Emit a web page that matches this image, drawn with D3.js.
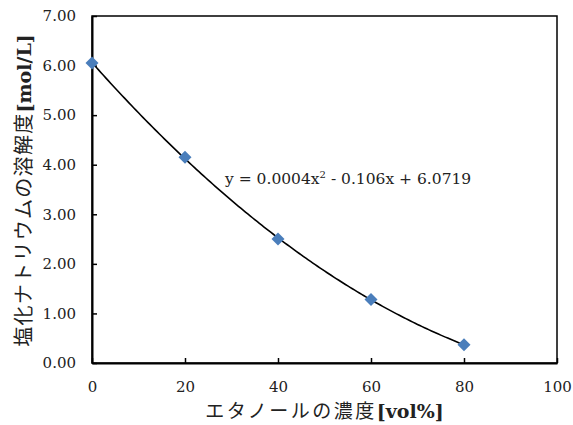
<!DOCTYPE html>
<html><head><meta charset="utf-8">
<script src="https://cdn.jsdelivr.net/npm/d3@7"></script>
<style>
html,body{margin:0;padding:0;background:#fff;}
svg{display:block;}
</style></head>
<body>
<svg id="c" width="573" height="425"></svg>
<script>
// Data
const ethanol = [0, 20, 40, 60, 80];            // vol%
const solubility = [6.05, 4.15, 2.50, 1.28, 0.37]; // mol/L
const xTicks = [0, 20, 40, 60, 80, 100];
const yTicks = [0, 1, 2, 3, 4, 5, 6, 7];
const equationText = ["y = 0.0004x", "2", " - 0.106x + 6.0719"];
const xTitle = ["エタノールの濃度", "[vol%]"];
const yTitle = ["塩化ナトリウムの溶解度", "[mol/L]"];

const W = 573, H = 425;
const m = {left: 92, top: 16, right: 16, bottom: 62};
const svg = d3.select("#c");
const x = d3.scaleLinear().domain([0, 100]).range([m.left, W - m.right]);
const y = d3.scaleLinear().domain([0, 7]).range([H - m.bottom, m.top]);
const serif = "'DejaVu Serif', serif";
const cjk = "'Noto Sans CJK JP', sans-serif";

// frame
svg.append("rect").attr("x", x(0)).attr("y", y(7))
  .attr("width", x(100) - x(0)).attr("height", y(0) - y(7))
  .attr("fill", "none").attr("stroke", "#000").attr("stroke-width", 1.5);

// axes with inward ticks
const xAxis = svg.append("g").attr("transform", `translate(0,${y(0)})`)
  .call(d3.axisBottom(x).tickValues(xTicks).tickSizeInner(-5).tickSizeOuter(0).tickPadding(18).tickFormat(d3.format("d")));
const yAxis = svg.append("g").attr("transform", `translate(${x(0)},0)`)
  .call(d3.axisLeft(y).tickValues(yTicks).tickSizeInner(-5).tickSizeOuter(0).tickPadding(16).tickFormat(d3.format(".2f")));
[xAxis, yAxis].forEach(g => {
  g.select(".domain").attr("stroke", "#000").attr("stroke-width", 2);
  g.selectAll(".tick line").attr("stroke", "#000").attr("stroke-width", 1.5);
  g.selectAll(".tick text").attr("font-family", serif).attr("font-size", 15).attr("fill", "#222");
});
xAxis.selectAll(".tick text").attr("dy", "0.71em");

// polynomial trendline (least squares quadratic fit of data)
function quadFit(xs, ys) {
  const n = xs.length;
  let S = [0,0,0,0,0], T = [0,0,0];
  for (let i = 0; i < n; i++) {
    for (let k = 0; k < 5; k++) S[k] += Math.pow(xs[i], k);
    for (let k = 0; k < 3; k++) T[k] += ys[i] * Math.pow(xs[i], k);
  }
  const M = [[S[0],S[1],S[2],T[0]],[S[1],S[2],S[3],T[1]],[S[2],S[3],S[4],T[2]]];
  for (let i = 0; i < 3; i++) {
    for (let j = i + 1; j < 3; j++) {
      const f = M[j][i] / M[i][i];
      for (let k = i; k < 4; k++) M[j][k] -= f * M[i][k];
    }
  }
  const c = [0,0,0];
  for (let i = 2; i >= 0; i--) {
    let s = M[i][3];
    for (let k = i + 1; k < 3; k++) s -= M[i][k] * c[k];
    c[i] = s / M[i][i];
  }
  return c; // c0 + c1 x + c2 x^2
}
const coef = quadFit(ethanol, solubility);
const xs = d3.range(0, 80.01, 0.5);
svg.append("path")
  .datum(xs.map(v => [v, coef[0] + coef[1] * v + coef[2] * v * v]))
  .attr("fill", "none").attr("stroke", "#000").attr("stroke-width", 1.6)
  .attr("d", d3.line().x(d => x(d[0])).y(d => y(d[1])));

// markers
svg.selectAll("rect.pt").data(ethanol).join("rect").attr("class", "pt")
  .attr("x", -4.6).attr("y", -4.6).attr("width", 9.2).attr("height", 9.2)
  .attr("fill", "#4a7ebb")
  .attr("transform", (d, i) => `translate(${x(d)},${y(solubility[i])}) rotate(45)`);

// equation label
const eq = svg.append("text").attr("x", 225).attr("y", 184)
  .attr("font-family", serif).attr("font-size", 15.5).attr("fill", "#222");
eq.append("tspan").text(equationText[0]);
eq.append("tspan").attr("dy", -6).attr("font-size", 10).text(equationText[1]);
eq.append("tspan").attr("dy", 6).text(equationText[2]);

// axis titles
const xt = svg.append("text").attr("x", (x(0) + x(100)) / 2).attr("y", 418)
  .attr("text-anchor", "middle").attr("fill", "#222");
xt.append("tspan").attr("font-family", cjk).attr("font-size", 19).attr("letter-spacing", 2.5).text(xTitle[0]);
xt.append("tspan").attr("font-family", serif).attr("font-weight", "bold").attr("font-size", 19).text(xTitle[1]);

const yt = svg.append("text")
  .attr("transform", `translate(31,${(y(0) + y(7)) / 2 + 1}) rotate(-90)`)
  .attr("text-anchor", "middle").attr("fill", "#222");
yt.append("tspan").attr("font-family", cjk).attr("font-size", 20).attr("letter-spacing", 1.3).text(yTitle[0]);
yt.append("tspan").attr("font-family", serif).attr("font-weight", "bold").attr("font-size", 19).text(yTitle[1]);
</script>
</body></html>
